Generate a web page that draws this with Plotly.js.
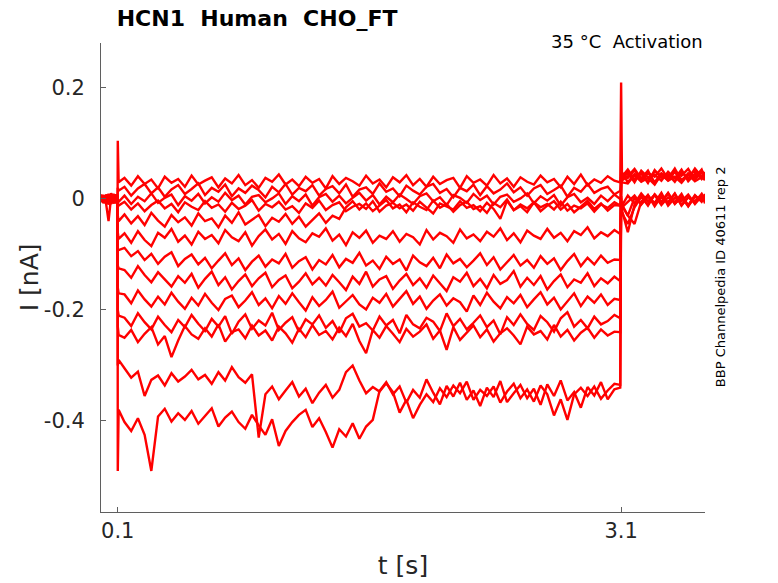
<!DOCTYPE html>
<html>
<head>
<meta charset="utf-8">
<script src="https://cdn.plot.ly/plotly-3.0.1.min.js"></script>
<style>
  html, body { margin: 0; padding: 0; background: #ffffff; }
  #chart { width: 778px; height: 583px; }
</style>
</head>
<body>
<div id="chart"></div>
<script>
// sample times [s]: holding before the step, the 3 s step, and the tail after it
const preT = [0, 0.015, 0.03, 0.045, 0.06, 0.075, 0.09, 0.099];
const stepT = [0.1, 0.105,
  0.14, 0.18, 0.22, 0.26, 0.30, 0.34, 0.38, 0.42, 0.46, 0.50,
  0.54, 0.58, 0.62, 0.66, 0.70, 0.74, 0.78, 0.82, 0.86, 0.90,
  0.94, 0.98, 1.02, 1.06, 1.10, 1.14, 1.18, 1.22, 1.26, 1.30,
  1.34, 1.38, 1.42, 1.46, 1.50, 1.54, 1.58, 1.62, 1.66, 1.70,
  1.74, 1.78, 1.82, 1.86, 1.90, 1.94, 1.98, 2.02, 2.06, 2.10,
  2.14, 2.18, 2.22, 2.26, 2.30, 2.34, 2.38, 2.42, 2.46, 2.50,
  2.54, 2.58, 2.62, 2.66, 2.70, 2.74, 2.78, 2.82, 2.86, 2.90,
  2.94, 2.98, 3.02, 3.06,
  3.095];
const postT = [3.1, 3.105, 3.14, 3.18, 3.22, 3.26, 3.30, 3.34, 3.38, 3.42, 3.46, 3.50, 3.54, 3.58, 3.60];

// currents [nA], one sweep per voltage step
const pre01 = [0.004, -0.006, 0.008, -0.003, 0.006, -0.008, 0.005, 0.002];
const step01 = [0.105, 0.03,
  0.038, 0.024, 0.041, 0.027, 0.035, 0.019, 0.040, 0.029, 0.036, 0.022,
  0.042, 0.026, 0.033, 0.039, 0.021, 0.037, 0.028, 0.043, 0.025, 0.034,
  0.020, 0.038, 0.031, 0.044, 0.026, 0.035, 0.023, 0.040, 0.029, 0.036,
  0.019, 0.041, 0.027, 0.038, 0.032, 0.024, 0.042, 0.028, 0.035, 0.021,
  0.039, 0.030, 0.043, 0.025, 0.036, 0.022, 0.040, 0.027, 0.034, 0.038,
  0.020, 0.041, 0.029, 0.035, 0.024, 0.043, 0.028, 0.037, 0.022, 0.039,
  0.031, 0.026, 0.042, 0.030, 0.036, 0.021, 0.040, 0.027, 0.044, 0.025,
  0.035, 0.029, 0.041, 0.033,
  0.030];
const post01 = [0.21, 0.045, 0.038, 0.052, 0.033, 0.047, 0.040, 0.055, 0.036, 0.049, 0.042, 0.054, 0.035, 0.048, 0.041];

const pre02 = [-0.003, 0.007, -0.005, 0.009, -0.002, 0.006, -0.007, 0.001];
const step02 = [0.02, 0.015,
  0.022, 0.006, 0.019, 0.027, 0.010, 0.021, 0.004, 0.017, 0.025, 0.009,
  0.018, 0.028, 0.007, 0.020, 0.013, 0.026, 0.005, 0.019, 0.011, 0.024,
  0.016, 0.003, 0.022, 0.012, 0.027, 0.008, 0.020, 0.014, 0.025, 0.006,
  0.018, 0.023, 0.010, 0.026, 0.004, 0.017, 0.021, 0.009, 0.028, 0.013,
  0.019, 0.005, 0.024, 0.015, 0.008, 0.022, 0.027, 0.011, 0.018, 0.003,
  0.020, 0.014, 0.026, 0.007, 0.023, 0.010, 0.017, 0.028, 0.012, 0.021,
  0.006, 0.019, 0.025, 0.009, 0.016, 0.024, 0.004, 0.020, 0.013, 0.027,
  0.011, 0.018, 0.022, 0.008,
  0.015];
const post02 = [0.04, 0.03, 0.028, 0.043, 0.031, 0.038, 0.026, 0.045, 0.033, 0.040, 0.029, 0.044, 0.032, 0.039, 0.034];

const pre03 = [0.006, -0.004, 0.002, -0.009, 0.005, -0.003, 0.008, -0.002];
const step03 = [0.0, -0.005,
  0.006, -0.009, 0.004, -0.004, 0.010, -0.007, 0.002, 0.008, -0.011, 0.005,
  -0.003, 0.009, -0.008, 0.003, -0.005, 0.011, -0.002, 0.006, -0.010, 0.004,
  0.007, -0.006, 0.001, 0.010, -0.009, 0.005, -0.004, 0.008, -0.012, 0.003,
  0.009, -0.005, 0.006, -0.008, 0.002, 0.011, -0.003, 0.007, -0.010, 0.004,
  -0.006, 0.008, 0.000, -0.009, 0.005, 0.010, -0.004, 0.003, -0.011, 0.007,
  0.002, -0.007, 0.009, -0.002, 0.006, -0.010, 0.004, 0.008, -0.005, 0.001,
  0.010, -0.008, 0.005, -0.003, 0.007, -0.012, 0.003, 0.009, -0.006, 0.002,
  -0.009, 0.006, -0.004, 0.008,
  0.0];
const post03 = [0.0, -0.02, -0.06, -0.01, 0.005, -0.012, 0.008, -0.006, 0.010, -0.009, 0.004, -0.011, 0.007, -0.005, 0.006];

const pre04 = [-0.002, 0.005, -0.008, -0.040, 0.003, -0.006, 0.004, -0.001];
const step04 = [-0.01, -0.012,
  -0.005, -0.019, -0.008, -0.022, -0.011, -0.003, -0.017, -0.009, -0.024, -0.006,
  -0.014, -0.020, -0.004, -0.016, -0.010, -0.023, -0.007, -0.018, -0.012, -0.002,
  -0.021, -0.009, -0.015, -0.005, -0.019, -0.013, -0.025, -0.008, -0.016, -0.003,
  -0.020, -0.011, -0.006, -0.022, -0.014, -0.009, -0.018, -0.004, -0.023, -0.012,
  -0.007, -0.017, -0.010, -0.021, -0.005, -0.015, -0.026, -0.008, -0.013, -0.019,
  -0.004, -0.016, -0.011, -0.022, -0.007, -0.018, -0.036, -0.003, -0.020, -0.013,
  -0.024, -0.006, -0.015, -0.009, -0.019, -0.005, -0.021, -0.012, -0.017, -0.008,
  -0.023, -0.010, -0.016, -0.006,
  -0.012];
const post04 = [-0.005, -0.01, -0.03, -0.045, -0.005, 0.007, -0.010, 0.004, -0.007, 0.009, -0.012, 0.003, -0.004, 0.008, -0.008];

const pre05 = [0.008, -0.002, 0.004, -0.006, 0.010, 0.001, -0.005, 0.003];
const step05 = [-0.03, -0.04,
  -0.028, -0.044, -0.031, -0.047, -0.025, -0.039, -0.050, -0.029, -0.042, -0.033,
  -0.048, -0.026, -0.040, -0.035, -0.051, -0.030, -0.043, -0.024, -0.046, -0.037,
  -0.029, -0.049, -0.034, -0.041, -0.027, -0.045, -0.032, -0.050, -0.038, -0.026,
  -0.043, -0.030, -0.036, -0.015, -0.004, -0.019, -0.008, -0.022, -0.012, -0.002,
  -0.017, -0.010, -0.024, -0.006, -0.014, -0.020, -0.003, -0.016, -0.009, -0.023,
  -0.011, -0.005, -0.018, -0.013, -0.025, -0.007, -0.015, -0.001, -0.020, -0.010,
  -0.017, -0.006, -0.022, -0.012, -0.004, -0.019, -0.009, -0.024, -0.014, -0.003,
  -0.018, -0.008, -0.021, -0.011,
  -0.012];
const post05 = [0.035, 0.048, 0.030, 0.045, 0.037, 0.051, 0.028, 0.043, 0.034, 0.049, 0.031, 0.046, 0.039, 0.053, 0.036];

const pre06 = [-0.004, 0.006, -0.009, 0.003, -0.005, 0.008, -0.002, 0.004];
const step06 = [-0.06, -0.072,
  -0.062, -0.079, -0.058, -0.074, -0.085, -0.061, -0.070, -0.054, -0.077, -0.066,
  -0.082, -0.059, -0.072, -0.065, -0.080, -0.056, -0.069, -0.076, -0.060, -0.084,
  -0.067, -0.055, -0.073, -0.063, -0.081, -0.058, -0.071, -0.078, -0.062, -0.068,
  -0.053, -0.075, -0.064, -0.083, -0.060, -0.070, -0.057, -0.079, -0.066, -0.072,
  -0.058, -0.077, -0.063, -0.069, -0.082, -0.056, -0.073, -0.061, -0.067, -0.079,
  -0.055, -0.071, -0.064, -0.076, -0.059, -0.068, -0.053, -0.074, -0.062, -0.078,
  -0.057, -0.066, -0.072, -0.054, -0.070, -0.061, -0.076, -0.058, -0.065, -0.051,
  -0.071, -0.060, -0.067, -0.056,
  -0.063];
const post06 = [-0.01, -0.025, -0.045, -0.015, 0.004, -0.010, 0.008, -0.005, 0.011, -0.008, 0.002, -0.013, 0.006, -0.003, 0.009];

const pre07 = [0.005, -0.007, 0.002, -0.004, 0.009, -0.006, 0.003, -0.001];
const step07 = [-0.09, -0.092,
  -0.088, -0.103, -0.094, -0.110, -0.099, -0.117, -0.104, -0.096, -0.121, -0.108,
  -0.100, -0.118, -0.106, -0.125, -0.111, -0.098, -0.119, -0.107, -0.128, -0.113,
  -0.102, -0.122, -0.109, -0.116, -0.099, -0.124, -0.112, -0.105, -0.127, -0.110,
  -0.118, -0.101, -0.123, -0.108, -0.115, -0.097, -0.120, -0.111, -0.126, -0.104,
  -0.117, -0.109, -0.129, -0.102, -0.114, -0.121, -0.106, -0.125, -0.100, -0.116,
  -0.108, -0.123, -0.111, -0.098, -0.119, -0.105, -0.127, -0.113, -0.101, -0.120,
  -0.110, -0.124, -0.103, -0.117, -0.107, -0.128, -0.112, -0.099, -0.121, -0.106,
  -0.118, -0.102, -0.115, -0.109,
  -0.11];
const post07 = [0.03, 0.042, 0.050, 0.034, 0.046, 0.029, 0.052, 0.038, 0.044, 0.031, 0.049, 0.036, 0.055, 0.040, 0.045];

const pre08 = [-0.006, 0.004, -0.003, 0.008, -0.009, 0.002, -0.004, 0.006];
const step08 = [-0.12, -0.125,
  -0.128, -0.142, -0.121, -0.137, -0.150, -0.132, -0.145, -0.158, -0.139, -0.151,
  -0.135, -0.160, -0.144, -0.131, -0.155, -0.141, -0.163, -0.148, -0.136, -0.157,
  -0.143, -0.133, -0.159, -0.146, -0.138, -0.161, -0.149, -0.134, -0.154, -0.142,
  -0.156, -0.137, -0.150, -0.164, -0.140, -0.153, -0.131, -0.158, -0.145, -0.139,
  -0.162, -0.147, -0.135, -0.155, -0.143, -0.160, -0.138, -0.152, -0.166, -0.141,
  -0.149, -0.133, -0.157, -0.144, -0.161, -0.137, -0.153, -0.146, -0.130, -0.158,
  -0.142, -0.155, -0.139, -0.163, -0.148, -0.136, -0.159, -0.145, -0.151, -0.134,
  -0.157, -0.143, -0.152, -0.140,
  -0.148];
const post08 = [-0.02, -0.012, -0.03, 0.002, -0.009, 0.007, -0.013, 0.005, -0.006, 0.010, -0.011, 0.003, -0.007, 0.009, -0.002];

const pre09 = [0.003, -0.005, 0.007, -0.002, 0.004, -0.008, 0.006, 0.0];
const step09 = [-0.16, -0.17,
  -0.172, -0.188, -0.165, -0.181, -0.194, -0.176, -0.190, -0.169, -0.185, -0.198,
  -0.178, -0.192, -0.171, -0.187, -0.200, -0.180, -0.174, -0.195, -0.183, -0.168,
  -0.191, -0.179, -0.197, -0.175, -0.189, -0.170, -0.186, -0.201, -0.177, -0.193,
  -0.182, -0.167, -0.196, -0.184, -0.173, -0.190, -0.199, -0.178, -0.187, -0.171,
  -0.194, -0.180, -0.166, -0.189, -0.176, -0.198, -0.183, -0.172, -0.192, -0.179,
  -0.186, -0.203, -0.174, -0.191, -0.169, -0.185, -0.197, -0.177, -0.188, -0.173,
  -0.195, -0.181, -0.168, -0.190, -0.178, -0.199, -0.184, -0.170, -0.193, -0.176,
  -0.187, -0.172, -0.191, -0.180,
  -0.182];
const post09 = [0.04, 0.036, 0.047, 0.030, 0.051, 0.039, 0.044, 0.033, 0.049, 0.037, 0.053, 0.032, 0.045, 0.041, 0.048];

const pre10 = [-0.001, 0.006, -0.008, 0.003, -0.005, 0.009, -0.003, 0.002];
const step10 = [-0.20, -0.21,
  -0.214, -0.229, -0.206, -0.222, -0.235, -0.212, -0.227, -0.240, -0.218, -0.231,
  -0.209, -0.225, -0.238, -0.216, -0.230, -0.211, -0.243, -0.221, -0.208, -0.234,
  -0.219, -0.228, -0.205, -0.236, -0.223, -0.213, -0.239, -0.217, -0.226, -0.210,
  -0.232, -0.220, -0.241, -0.215, -0.207, -0.230, -0.224, -0.237, -0.212, -0.228,
  -0.218, -0.242, -0.209, -0.226, -0.233, -0.214, -0.221, -0.238, -0.206, -0.229,
  -0.216, -0.235, -0.223, -0.210, -0.231, -0.219, -0.244, -0.213, -0.227, -0.208,
  -0.225, -0.236, -0.211, -0.222, -0.239, -0.215, -0.204, -0.230, -0.218, -0.233,
  -0.212, -0.226, -0.220, -0.209,
  -0.215];
const post10 = [0.005, -0.015, -0.005, 0.006, -0.010, 0.004, -0.007, 0.011, -0.012, 0.002, -0.004, 0.008, -0.009, 0.005, -0.003];

const pre11 = [0.007, -0.003, 0.005, -0.010, 0.002, -0.006, 0.008, -0.004];
const step11 = [-0.23, -0.245,
  -0.250, -0.236, -0.258, -0.243, -0.231, -0.262, -0.247, -0.285, -0.255, -0.229,
  -0.244, -0.252, -0.233, -0.248, -0.226, -0.257, -0.240, -0.235, -0.251, -0.228,
  -0.246, -0.237, -0.255, -0.230, -0.242, -0.259, -0.234, -0.249, -0.227, -0.245,
  -0.238, -0.253, -0.232, -0.247, -0.225, -0.256, -0.278, -0.236, -0.250, -0.229,
  -0.243, -0.258, -0.234, -0.248, -0.239, -0.226, -0.252, -0.237, -0.272, -0.231,
  -0.254, -0.240, -0.228, -0.249, -0.235, -0.257, -0.242, -0.233, -0.246, -0.262,
  -0.230, -0.244, -0.238, -0.253, -0.227, -0.248, -0.236, -0.255, -0.241, -0.232,
  -0.250, -0.235, -0.246, -0.239,
  -0.24];
const post11 = [0.045, 0.033, 0.041, 0.054, 0.037, 0.048, 0.030, 0.046, 0.039, 0.052, 0.034, 0.043, 0.050, 0.036, 0.044];

const pre12 = [-0.005, 0.004, -0.002, 0.007, -0.006, 0.003, -0.008, 0.001];
const step12 = [-0.30, -0.29,
  -0.305, -0.322, -0.311, -0.355, -0.326, -0.318, -0.336, -0.314, -0.329, -0.320,
  -0.308, -0.325, -0.317, -0.333, -0.312, -0.327, -0.303, -0.321, -0.331, -0.316,
  -0.430, -0.352, -0.338, -0.361, -0.345, -0.330, -0.356, -0.342, -0.368, -0.349,
  -0.335, -0.358, -0.344, -0.312, -0.300, -0.327, -0.350, -0.339, -0.347, -0.332,
  -0.348, -0.385, -0.362, -0.395, -0.371, -0.352, -0.366, -0.341, -0.357, -0.336,
  -0.350, -0.329, -0.362, -0.344, -0.355, -0.338, -0.367, -0.347, -0.333, -0.359,
  -0.343, -0.365, -0.336, -0.352, -0.390, -0.361, -0.398, -0.352, -0.340, -0.355,
  -0.338, -0.360, -0.345, -0.333,
  -0.335];
const post12 = [-0.005, -0.012, 0.006, -0.008, 0.010, -0.004, 0.007, -0.011, 0.003, -0.006, 0.009, -0.013, 0.004, -0.002, 0.008];

const pre13 = [0.002, -0.007, 0.005, -0.003, 0.008, -0.005, 0.001, -0.004];
const step13 = [-0.49, -0.38,
  -0.402, -0.418, -0.395, -0.425, -0.490, -0.392, -0.378, -0.401, -0.386, -0.398,
  -0.382, -0.405, -0.391, -0.377, -0.410, -0.394, -0.383, -0.402, -0.414, -0.389,
  -0.408, -0.425, -0.397, -0.445, -0.418, -0.402, -0.389, -0.380, -0.411, -0.395,
  -0.420, -0.448, -0.415, -0.428, -0.404, -0.432, -0.410, -0.398, -0.346, -0.330,
  -0.352, -0.338, -0.367, -0.344, -0.358, -0.325, -0.349, -0.370, -0.337, -0.356,
  -0.331, -0.362, -0.345, -0.373, -0.340, -0.357, -0.328, -0.366, -0.350, -0.335,
  -0.359, -0.342, -0.371, -0.334, -0.355, -0.327, -0.363, -0.348, -0.376, -0.339,
  -0.354, -0.330, -0.361, -0.343,
  -0.34];
const post13 = [0.03, 0.040, 0.053, 0.035, 0.047, 0.031, 0.050, 0.042, 0.037, 0.055, 0.033, 0.046, 0.039, 0.051, 0.043];

const sweeps = [
  [pre01, step01, post01], [pre02, step02, post02], [pre03, step03, post03],
  [pre04, step04, post04], [pre05, step05, post05], [pre06, step06, post06],
  [pre07, step07, post07], [pre08, step08, post08], [pre09, step09, post09],
  [pre10, step10, post10], [pre11, step11, post11], [pre12, step12, post12],
  [pre13, step13, post13]
];

const timeAll = [...preT, ...stepT, ...postT];

const traces = sweeps.map((s) => ({
  type: "scatter",
  mode: "lines",
  x: timeAll,
  y: [...s[0], ...s[1], ...s[2]],
  line: { color: "#ff0000", width: 2.4 },
  hoverinfo: "skip",
}));

const tickFont = { family: "DejaVu Sans", size: 21, color: "#262626" };
const axisColor = "#5f5f5f";

const layout = {
  width: 778,
  height: 583,
  margin: { l: 101, r: 73, t: 43, b: 71, pad: 0 },
  paper_bgcolor: "#ffffff",
  plot_bgcolor: "#ffffff",
  showlegend: false,
  title: {
    text: "<b>HCN1\u00a0\u00a0Human\u00a0\u00a0CHO_FT</b>",
    font: { family: "DejaVu Sans", size: 22, color: "#000000" },
    xref: "paper",
    x: 0.026,
    xanchor: "left",
    yref: "container",
    y: 0.969,
    yanchor: "middle",
  },
  xaxis: {
    range: [0, 3.6],
    tickvals: [0.1, 3.1],
    ticktext: ["0.1", "3.1"],
    ticks: "inside",
    ticklen: 5,
    tickcolor: axisColor,
    showline: true,
    linecolor: axisColor,
    linewidth: 1,
    showgrid: false,
    zeroline: false,
    tickfont: tickFont,
    title: { text: "t [s]", font: { family: "DejaVu Sans", size: 25, color: "#262626" }, standoff: 14 },
  },
  yaxis: {
    range: [-0.564, 0.281],
    tickvals: [-0.4, -0.2, 0, 0.2],
    ticktext: ["-0.4", "-0.2", "0", "0.2"],
    ticks: "inside",
    ticklen: 5,
    tickcolor: axisColor,
    ticklabelstandoff: 11,
    showline: true,
    linecolor: axisColor,
    linewidth: 1,
    showgrid: false,
    zeroline: false,
    tickfont: tickFont,
  },
  annotations: [
    {
      text: "I [nA]",
      xref: "paper", yref: "paper",
      x: -0.118, y: 0.5,
      xanchor: "center", yanchor: "middle",
      textangle: -90,
      showarrow: false,
      font: { family: "DejaVu Sans", size: 25, color: "#262626" },
    },
    {
      text: "35 °C\u00a0\u00a0Activation",
      xref: "paper", yref: "paper",
      x: 1.0, y: 1.004,
      xanchor: "right", yanchor: "middle",
      showarrow: false,
      font: { family: "DejaVu Sans", size: 18, color: "#000000" },
    },
    {
      text: "BBP Channelpedia ID 40611 rep 2",
      xref: "paper", yref: "paper",
      x: 1.025, y: 0.501,
      xanchor: "center", yanchor: "middle",
      textangle: -90,
      showarrow: false,
      font: { family: "DejaVu Sans", size: 13, color: "#000000" },
    },
  ],
};

Plotly.newPlot("chart", traces, layout, { staticPlot: true, displayModeBar: false });
</script>
</body>
</html>
